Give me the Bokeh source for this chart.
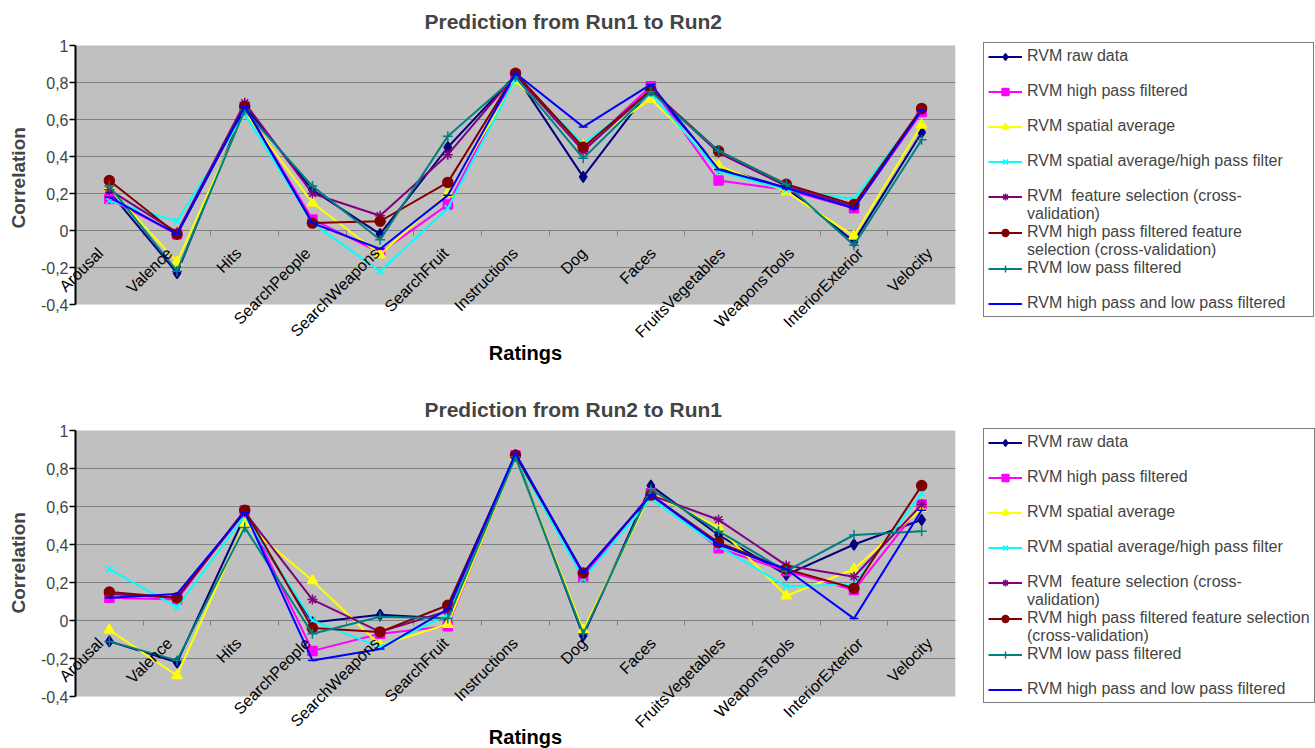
import numpy as np
from math import pi
from bokeh.plotting import figure
from bokeh.models import (Range1d, FixedTicker, Legend, LegendItem, LabelSet, Label,
                          ColumnDataSource, BoxAnnotation, Title)
from bokeh.core.properties import value
from bokeh.layouts import column
from bokeh.embed import file_html
from bokeh.resources import INLINE

categories = ["Arousal", "Valence", "Hits", "SearchPeople", "SearchWeapons", "SearchFruit",
              "Instructions", "Dog", "Faces", "FruitsVegetables", "WeaponsTools",
              "InteriorExterior", "Velocity"]

y_ticks = [-0.4, -0.2, 0.0, 0.2, 0.4, 0.6, 0.8, 1.0]
y_tick_labels = ["-0,4", "-0,2", "0", "0,2", "0,4", "0,6", "0,8", "1"]

names_top = ["RVM raw data", "RVM high pass filtered", "RVM spatial average",
             "RVM spatial average/high pass filter",
             "RVM  feature selection (cross-\nvalidation)",
             "RVM high pass filtered feature\nselection (cross-validation)",
             "RVM low pass filtered", "RVM high pass and low pass filtered"]
names_bottom = ["RVM raw data", "RVM high pass filtered", "RVM spatial average",
                "RVM spatial average/high pass filter",
                "RVM  feature selection (cross-\nvalidation)",
                "RVM high pass filtered feature selection\n(cross-validation)",
                "RVM low pass filtered", "RVM high pass and low pass filtered"]

# Prediction from Run1 to Run2
r12_raw = [0.21, -0.23, 0.67, 0.22, -0.02, 0.45, 0.84, 0.29, 0.77, 0.34, 0.23, -0.06, 0.53]
r12_hp = [0.17, -0.02, 0.67, 0.06, -0.12, 0.14, 0.84, 0.44, 0.78, 0.27, 0.22, 0.12, 0.64]
r12_sa = [0.23, -0.17, 0.64, 0.15, -0.13, 0.20, 0.81, 0.46, 0.71, 0.35, 0.21, -0.03, 0.57]
r12_sahp = [0.16, 0.05, 0.63, 0.04, -0.22, 0.12, 0.82, 0.47, 0.74, 0.32, 0.22, 0.17, 0.65]
r12_fs = [0.22, -0.01, 0.69, 0.20, 0.08, 0.41, 0.84, 0.43, 0.76, 0.42, 0.24, 0.13, 0.65]
r12_hpfs = [0.27, -0.02, 0.67, 0.04, 0.05, 0.26, 0.85, 0.45, 0.76, 0.43, 0.25, 0.14, 0.66]
r12_lp = [0.24, -0.22, 0.65, 0.24, -0.05, 0.51, 0.83, 0.39, 0.75, 0.43, 0.25, -0.08, 0.49]
r12_hplp = [0.18, -0.02, 0.67, 0.04, -0.10, 0.19, 0.85, 0.56, 0.79, 0.33, 0.23, 0.12, 0.65]

# Prediction from Run2 to Run1
r21_raw = [-0.11, -0.22, 0.55, -0.01, 0.03, 0.01, 0.87, -0.08, 0.71, 0.45, 0.24, 0.40, 0.53]
r21_hp = [0.12, 0.11, 0.58, -0.16, -0.07, -0.03, 0.87, 0.23, 0.67, 0.38, 0.26, 0.16, 0.61]
r21_sa = [-0.05, -0.29, 0.51, 0.21, -0.13, -0.02, 0.86, -0.05, 0.67, 0.49, 0.13, 0.27, 0.59]
r21_sahp = [0.27, 0.07, 0.55, 0.00, -0.14, 0.03, 0.86, 0.22, 0.64, 0.39, 0.18, 0.19, 0.67]
r21_fs = [0.14, 0.12, 0.57, 0.11, -0.06, 0.05, 0.87, 0.25, 0.66, 0.53, 0.29, 0.23, 0.61]
r21_hpfs = [0.15, 0.12, 0.58, -0.04, -0.06, 0.08, 0.87, 0.25, 0.66, 0.41, 0.27, 0.17, 0.71]
r21_lp = [-0.11, -0.21, 0.49, -0.07, 0.02, 0.01, 0.86, -0.07, 0.69, 0.47, 0.26, 0.45, 0.47]
r21_hplp = [0.12, 0.14, 0.57, -0.21, -0.15, 0.06, 0.88, 0.25, 0.66, 0.40, 0.27, 0.01, 0.58]

colors = ["#000080", "#FF00FF", "#FFFF00", "#00FFFF", "#800080", "#800000", "#008080", "#0000FF"]
markers = ["diamond", "square", "triangle", "x", "asterisk", "circle", "cross", "dash"]
msizes = [11, 9, 10, 9, 10, 10, 10, 9]

FONT = "Liberation Sans"
n_cat = len(categories)
x_pos = [i + 0.5 for i in range(n_cat)]
x_bounds = [float(i) for i in range(1, n_cat)]
zero_line = [0.0] * n_cat
label_dx = [-15 + 1.4 * i for i in range(n_cat)]
y_lo, y_hi = y_ticks[0], y_ticks[-1]
grid_y = [t for t in y_ticks if y_lo < t < y_hi]

GRAY_W = 880      # width of the grey plotting area, px
LEFT_PAD = 45     # room inside the frame, left of the value axis, for its labels


def make_fig(title, series, names, top_border, top_pad, gray_px, frame_px, title_standoff,
             corr_offset, ratings_dy, legend_vy):
    # the frame reaches beyond the grey plot area so that labels are not clipped
    px_per_unit = gray_px / (y_hi - y_lo)
    y_max = y_hi + top_pad / px_per_unit
    y_min = y_max - frame_px / px_per_unit
    x_min = -LEFT_PAD / (GRAY_W / n_cat)
    p = figure(frame_width=GRAY_W + LEFT_PAD, frame_height=frame_px, output_backend="svg",
               toolbar_location=None,
               x_range=Range1d(x_min, n_cat), y_range=Range1d(y_min, y_max),
               min_border_left=30, min_border_top=top_border, min_border_bottom=0,
               min_border_right=0)
    p.background_fill_color = "white"
    p.border_fill_color = "white"
    p.outline_line_color = None

    p.add_layout(BoxAnnotation(left=0, right=n_cat, bottom=y_lo, top=y_hi,
                               fill_color="#C0C0C0", fill_alpha=1.0,
                               line_color=None, level="image"))
    p.grid.visible = False
    p.segment(x0=[0] * len(grid_y), y0=grid_y, x1=[n_cat] * len(grid_y), y1=grid_y,
              line_color="#808080", line_width=1, level="underlay")

    p.title.text = title
    p.title.align = "left"
    p.title.offset = 349 + LEFT_PAD
    p.title.vertical_align = "middle"
    p.title.text_font = FONT
    p.title.text_font_size = "21px"
    p.title.text_font_style = "bold"
    p.title.standoff = title_standoff

    ya = p.yaxis[0]
    ya.ticker = FixedTicker(ticks=y_ticks)
    ya.fixed_location = 0
    ya.bounds = (y_lo, y_hi)
    ya.major_label_overrides = {t: l for t, l in zip(y_ticks, y_tick_labels)}
    ya.axis_line_color = "black"
    ya.axis_line_width = 2
    ya.major_tick_out = 6
    ya.major_tick_in = 0
    ya.major_tick_line_width = 1.5
    ya.minor_tick_line_color = None
    ya.major_label_standoff = 1
    ya.major_label_text_font = FONT
    ya.major_label_text_font_size = "16px"

    p.add_layout(Title(text="Correlation", align="left", offset=corr_offset,
                       vertical_align="middle", standoff=1, text_font=FONT,
                       text_font_size="19px", text_font_style="bold"), "left")

    xa = p.xaxis[0]
    xa.ticker = FixedTicker(ticks=x_pos, minor_ticks=x_bounds)
    xa.major_label_overrides = {t: "" for t in x_pos}
    xa.fixed_location = 0
    xa.bounds = (0, n_cat)
    xa.level = "underlay"
    xa.axis_line_color = "#808080"
    xa.major_tick_line_color = None
    xa.major_tick_out = 0
    xa.major_tick_in = 0
    xa.minor_tick_in = 0
    xa.minor_tick_out = 5
    xa.minor_tick_line_color = "#808080"
    xa.major_label_text_font_size = "1px"
    xa.major_label_standoff = 0

    # category labels hanging under the zero line, rotated 45 degrees
    lab_src = ColumnDataSource(dict(x=x_pos, y=zero_line, text=categories, dx=label_dx))
    p.add_layout(LabelSet(x="x", y="y", text="text", source=lab_src, angle=pi / 4,
                          text_align="right", text_baseline="top",
                          x_offset="dx", y_offset=-14,
                          text_font=value(FONT), text_font_size="16px",
                          text_color="black"))

    p.add_layout(Label(x=n_cat / 2, y=y_min, text="Ratings", text_align="center",
                       text_baseline="middle", x_offset=10, y_offset=ratings_dy,
                       text_font=FONT, text_font_size="20px", text_font_style="bold",
                       text_color="black"))

    blank = p.line(x=[], y=[], line_color=None)
    items = []
    for vals, name, col, mk, ms in zip(series, names, colors, markers, msizes):
        lr = p.line(x_pos, vals, line_color=col, line_width=2)
        sr = p.scatter(x_pos, vals, marker=mk, size=ms, fill_color=col, line_color=col,
                       line_width=1.5)
        lines = name.split("\n")
        items.append(LegendItem(label=lines[0], renderers=[lr, sr]))
        items.append(LegendItem(label=lines[1] if len(lines) > 1 else " ",
                                renderers=[blank]))
    items = items[:-1]

    legend = Legend(items=items, location=(28, legend_vy), margin=15, padding=4, spacing=0,
                    glyph_width=34, glyph_height=17, label_height=17, label_standoff=5,
                    label_width=282,
                    label_text_font=FONT, label_text_font_size="16px",
                    border_line_color="black", border_line_width=1,
                    background_fill_color="white", background_fill_alpha=1.0)
    p.add_layout(legend, "right")
    return p


p1 = make_fig("Prediction from Run1 to Run2",
              [r12_raw, r12_hp, r12_sa, r12_sahp, r12_fs, r12_hpfs, r12_lp, r12_hplp],
              names_top, 33, 12, 259, 345, 0, 150, 26, 61)
p2 = make_fig("Prediction from Run2 to Run1",
              [r21_raw, r21_hp, r21_sa, r21_sahp, r21_fs, r21_hpfs, r21_lp, r21_hplp],
              names_bottom, 43, 9, 266, 327, 0, 135, 12, 45)

layout = column(p1, p2, spacing=0)
open("out.html", "w").write(file_html(layout, INLINE))
